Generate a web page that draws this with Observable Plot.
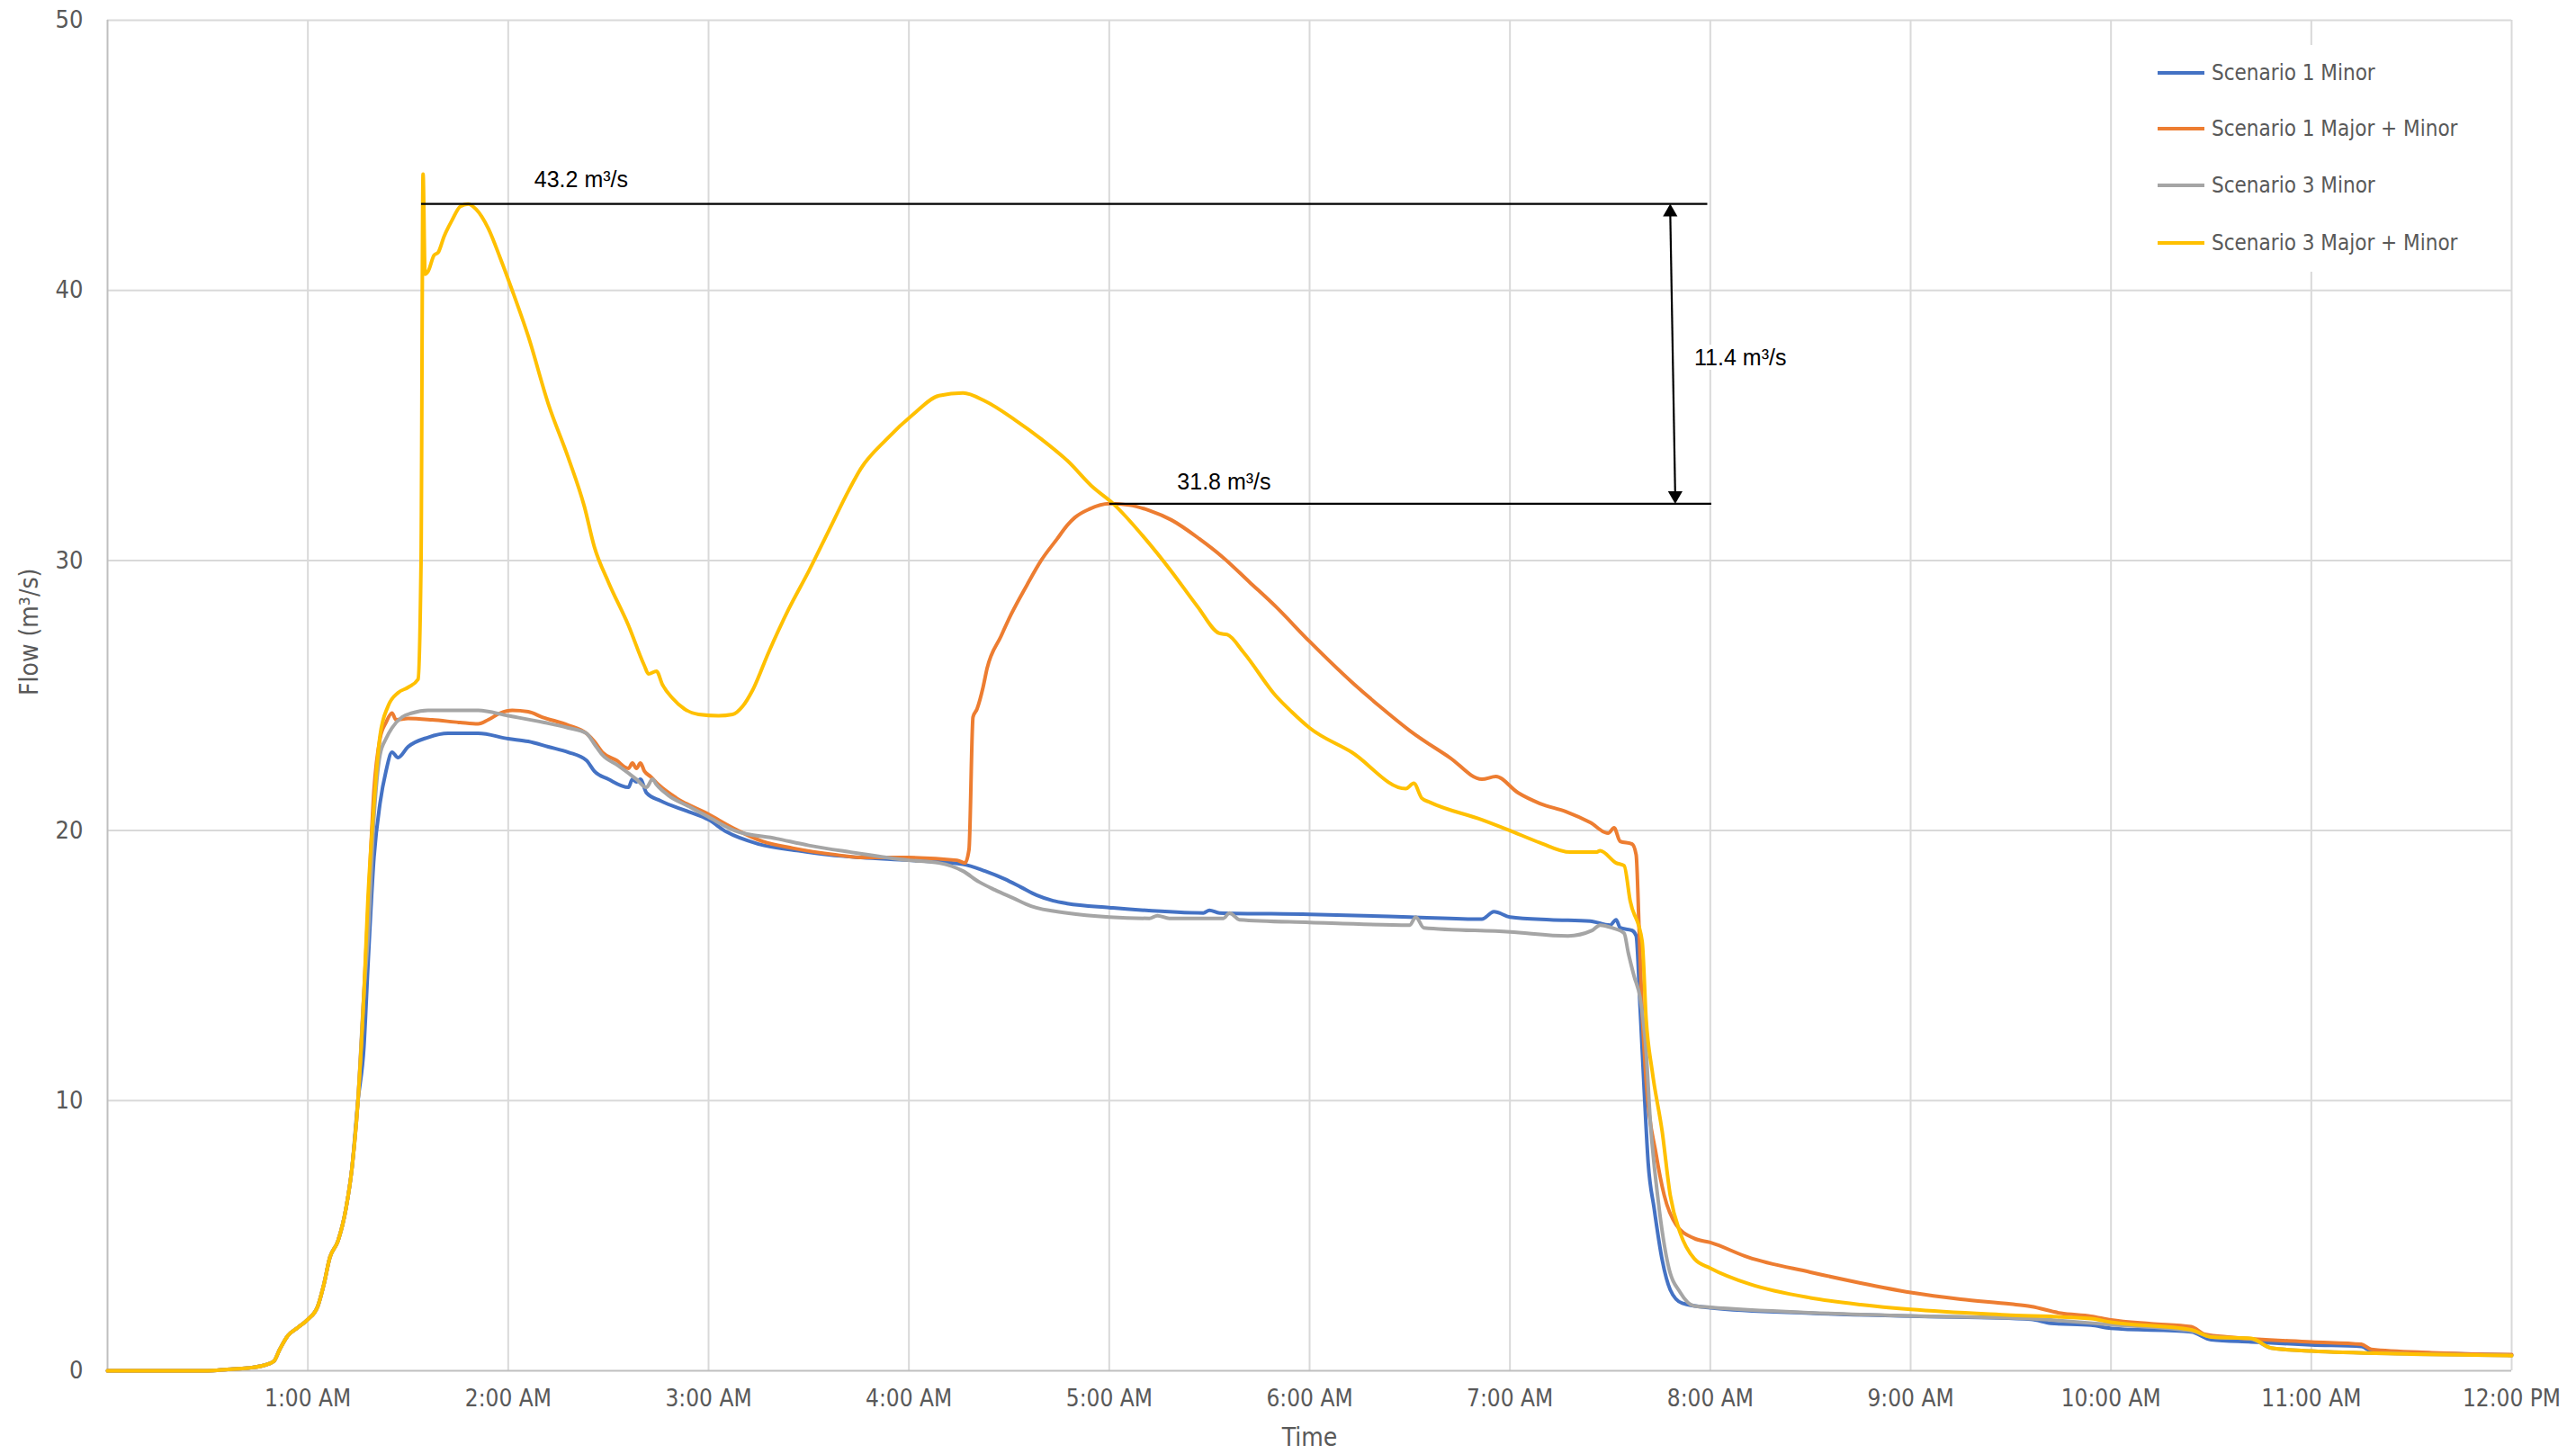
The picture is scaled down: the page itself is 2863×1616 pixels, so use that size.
<!DOCTYPE html>
<html><head><meta charset="utf-8">
<script src="https://cdn.jsdelivr.net/npm/d3@7"></script>
<script src="https://cdn.jsdelivr.net/npm/@observablehq/plot@0.6"></script>
<style>
html,body{margin:0;padding:0;background:#fff;}
#wrap{position:relative;width:2863px;height:1616px;}
#legend{position:absolute;left:2372px;top:50px;width:410px;height:252px;background:#fff;
  font-family:'Liberation Sans Narrow','DejaVu Sans Condensed',Roboto,sans-serif;font-size:24px;color:#595959;}
.row{position:absolute;left:0;height:40px;display:flex;align-items:center;white-space:nowrap;}
.sw{width:52px;height:4px;margin-left:26px;margin-right:8px;}
</style></head>
<body><div id="wrap"><div id="legend"></div></div>
<script>
// ---------- data ----------
const hourTicks = [1,2,3,4,5,6,7,8,9,10,11,12];
const hourLabels = ["1:00 AM","2:00 AM","3:00 AM","4:00 AM","5:00 AM","6:00 AM","7:00 AM","8:00 AM","9:00 AM","10:00 AM","11:00 AM","12:00 PM"];
const flowTicks = [0,10,20,30,40,50];

const seriesNames = ["Scenario 1 Minor","Scenario 1 Major + Minor","Scenario 3 Minor","Scenario 3 Major + Minor"];
const seriesColors = ["#4472C4","#ED7D31","#A5A5A5","#FFC000"];

// common rising limb [hour, flow]
const baseRise = [[0,0],[0.5,0],[0.6,0.05],[0.7,0.1],[0.78,0.2],[0.83,0.35],[0.86,0.8],[0.9,1.3],[0.95,1.6],[1.0,1.9],[1.05,2.4],[1.08,3.2],[1.11,4.2],[1.15,4.8],[1.19,6.0],[1.22,7.5],[1.25,10]];

const s1Minor = [[1.28,12],[1.3,15],[1.33,19],[1.36,21],[1.39,22.2],[1.42,22.9],[1.45,22.7],[1.5,23.1],[1.6,23.45],[1.7,23.6],[1.85,23.6],[2.0,23.4],[2.1,23.3],[2.2,23.1],[2.3,22.9],[2.39,22.6],[2.43,22.2],[2.5,21.9],[2.6,21.6],[2.62,21.9],[2.64,21.8],[2.66,21.9],[2.69,21.4],[2.76,21.1],[2.9,20.7],[3.0,20.4],[3.09,19.95],[3.25,19.5],[3.45,19.25],[3.6,19.1],[3.76,19.0],[4.0,18.9],[4.27,18.75],[4.38,18.5],[4.48,18.2],[4.56,17.9],[4.64,17.6],[4.72,17.4],[4.79,17.3],[5.0,17.15],[5.47,16.95],[5.5,17.05],[5.55,16.95],[6.0,16.9],[6.5,16.8],[6.86,16.72],[6.92,17.0],[7.0,16.8],[7.2,16.7],[7.4,16.65],[7.5,16.5],[7.53,16.7],[7.55,16.4],[7.61,16.3],[7.63,16.1],[7.65,13.4],[7.67,10.4],[7.69,7.7],[7.72,6.0],[7.76,4.1],[7.8,3.0],[7.86,2.5],[8.0,2.33],[8.5,2.13],[9.0,2.02],[9.6,1.91],[9.7,1.76],[9.9,1.69],[10.0,1.57],[10.4,1.44],[10.5,1.15],[10.7,1.07],[11.0,0.96],[11.25,0.9],[11.3,0.73],[11.6,0.65],[12.0,0.58]];

const s1Major = [[1.28,14],[1.3,17],[1.33,21.5],[1.36,23.4],[1.39,24.0],[1.42,24.35],[1.44,24.1],[1.5,24.15],[1.62,24.1],[1.76,24.0],[1.85,23.95],[1.9,24.1],[1.96,24.35],[2.02,24.45],[2.1,24.4],[2.17,24.2],[2.3,23.9],[2.39,23.6],[2.43,23.3],[2.47,22.9],[2.54,22.6],[2.6,22.3],[2.62,22.5],[2.64,22.3],[2.66,22.5],[2.68,22.2],[2.71,22.0],[2.75,21.7],[2.84,21.2],[3.0,20.6],[3.12,20.1],[3.27,19.6],[3.42,19.35],[3.64,19.1],[3.77,19.0],[4.0,19.0],[4.24,18.9],[4.28,18.8],[4.3,19.3],[4.32,24.2],[4.34,24.5],[4.37,25.3],[4.39,26.0],[4.46,27.2],[4.51,28.0],[4.59,29.1],[4.66,30.0],[4.74,30.8],[4.79,31.3],[4.83,31.6],[4.9,31.9],[5.0,32.1],[5.1,32.05],[5.2,31.85],[5.31,31.5],[5.45,30.8],[5.57,30.1],[5.7,29.2],[5.83,28.3],[6.0,27.0],[6.21,25.5],[6.35,24.6],[6.5,23.7],[6.7,22.7],[6.86,21.9],[6.93,22.0],[7.04,21.4],[7.15,21.0],[7.28,20.7],[7.4,20.3],[7.49,19.9],[7.52,20.1],[7.55,19.6],[7.61,19.5],[7.63,19.1],[7.645,16.3],[7.66,13.3],[7.68,10.7],[7.73,8.0],[7.77,6.5],[7.83,5.4],[7.92,4.9],[8.0,4.75],[8.19,4.2],[8.5,3.65],[8.75,3.25],[9.0,2.9],[9.25,2.65],[9.5,2.47],[9.6,2.38],[9.75,2.13],[9.9,2.02],[10.0,1.88],[10.2,1.74],[10.4,1.63],[10.47,1.35],[10.6,1.24],[11.0,1.07],[11.25,0.98],[11.3,0.79],[11.6,0.67],[12.0,0.6]];

const s3Minor = [[1.28,14],[1.3,16],[1.33,20.5],[1.36,22.8],[1.39,23.4],[1.42,23.8],[1.47,24.2],[1.52,24.35],[1.6,24.45],[1.85,24.45],[2.0,24.25],[2.18,24.0],[2.3,23.8],[2.39,23.6],[2.43,23.2],[2.47,22.8],[2.55,22.4],[2.64,21.9],[2.69,21.6],[2.72,21.9],[2.74,21.7],[2.8,21.3],[2.9,20.9],[3.0,20.5],[3.13,20.0],[3.34,19.7],[3.5,19.45],[3.71,19.2],[4.0,18.9],[4.15,18.8],[4.27,18.5],[4.35,18.1],[4.43,17.8],[4.52,17.5],[4.61,17.2],[4.79,16.95],[5.0,16.8],[5.2,16.75],[5.24,16.85],[5.3,16.75],[5.57,16.75],[5.6,16.95],[5.65,16.7],[6.0,16.6],[6.5,16.5],[6.53,16.8],[6.57,16.4],[7.0,16.25],[7.29,16.1],[7.41,16.3],[7.45,16.5],[7.51,16.4],[7.57,16.2],[7.59,15.5],[7.62,14.6],[7.65,13.8],[7.68,11.8],[7.7,9.3],[7.74,6.3],[7.79,3.9],[7.85,2.9],[7.92,2.4],[8.0,2.35],[8.5,2.15],[9.0,2.03],[9.6,1.93],[9.7,1.88],[10.0,1.71],[10.4,1.48],[10.5,1.26],[10.7,1.18],[10.8,0.84],[11.0,0.73],[11.5,0.62],[12.0,0.56]];

const s3Major = [[1.28,14],[1.3,17.5],[1.33,21],[1.36,23.5],[1.4,24.6],[1.45,25.1],[1.5,25.3],[1.55,25.6],[1.565,30],[1.575,44.3],[1.585,40.6],[1.6,40.7],[1.63,41.3],[1.65,41.4],[1.68,42.0],[1.72,42.6],[1.76,43.1],[1.8,43.2],[1.84,43.0],[1.9,42.3],[1.96,41.2],[2.02,40.0],[2.1,38.3],[2.2,35.8],[2.3,33.8],[2.38,32.0],[2.43,30.5],[2.5,29.2],[2.6,27.6],[2.68,26.1],[2.7,25.8],[2.74,25.9],[2.77,25.4],[2.82,24.9],[2.88,24.5],[2.95,24.3],[3.05,24.25],[3.12,24.3],[3.17,24.6],[3.22,25.2],[3.3,26.6],[3.4,28.2],[3.5,29.6],[3.6,31.1],[3.7,32.6],[3.76,33.4],[3.89,34.5],[4.02,35.4],[4.15,36.1],[4.27,36.2],[4.38,35.9],[4.53,35.2],[4.66,34.5],[4.79,33.7],[4.92,32.7],[5.02,32.1],[5.18,30.8],[5.31,29.6],[5.44,28.3],[5.55,27.3],[5.59,27.25],[5.67,26.6],[5.83,25.0],[5.91,24.4],[6.0,23.8],[6.21,22.9],[6.48,21.55],[6.52,21.75],[6.56,21.2],[6.6,21.05],[6.86,20.4],[7.0,20.0],[7.15,19.55],[7.3,19.2],[7.43,19.2],[7.45,19.25],[7.53,18.8],[7.57,18.7],[7.6,17.4],[7.66,15.9],[7.68,13.0],[7.71,11.1],[7.76,8.85],[7.8,6.5],[7.85,5.1],[7.92,4.15],[8.0,3.8],[8.2,3.2],[8.5,2.7],[8.75,2.45],[9.0,2.27],[9.5,2.06],[9.9,1.93],[10.0,1.8],[10.4,1.52],[10.5,1.25],[10.7,1.2],[10.8,0.84],[11.0,0.73],[11.5,0.62],[12.0,0.56]];

const seriesData = [s1Minor, s1Major, s3Minor, s3Major];

// annotations
const annLines = [
  {x1: 1.565, y1: 43.2, x2: 7.985, y2: 43.2},
  {x1: 5.0, y1: 32.1, x2: 8.005, y2: 32.1},
  {x1: 7.80, y1: 42.9, x2: 7.825, y2: 32.4}
];
const annLabels = [
  {x: 2.364, y: 44.1, text: "43.2 m³/s"},
  {x: 5.573, y: 32.9, text: "31.8 m³/s"}
];
const diffLabel = [{x: 8.15, y: 37.5, text: "11.4 m³/s"}];
const arrowUp = [{x: 7.80, y: 42.89}];
const arrowDown = [{x: 7.825, y: 32.41}];

// ---------- build ----------
const FONT = "'Liberation Sans Narrow','DejaVu Sans Condensed',Roboto,sans-serif";
const rows = [];
seriesData.forEach((s, i) => {
  for (const [t, q] of baseRise.concat(s)) rows.push({series: seriesNames[i], t, q});
});

const chart = Plot.plot({
  width: 2863, height: 1616,
  marginLeft: 119, marginRight: 72, marginTop: 22, marginBottom: 93,
  style: {fontFamily: FONT, fontSize: "26px", color: "#595959", background: "#fff", overflow: "visible"},
  x: {domain: [0, 12], axis: null},
  y: {domain: [0, 50], axis: null},
  color: {domain: seriesNames, range: seriesColors},
  marks: [
    Plot.gridX(hourTicks, {stroke: "#d9d9d9", strokeOpacity: 1, strokeWidth: 2}),
    Plot.gridY(flowTicks.filter(d => d > 0), {stroke: "#d9d9d9", strokeOpacity: 1, strokeWidth: 2}),
    Plot.ruleX([0], {stroke: "#bfbfbf", strokeWidth: 2}),
    Plot.ruleY([0], {stroke: "#bfbfbf", strokeWidth: 2}),
    Plot.axisX(hourTicks, {tickSize: 0, tickPadding: 21, label: null, fontSize: 26, fill: "#595959",
      tickFormat: d => hourLabels[hourTicks.indexOf(d)]}),
    Plot.axisY(flowTicks, {tickSize: 0, tickPadding: 27, label: null, fontSize: 27, fill: "#595959"}),
    Plot.line(rows, {x: "t", y: "q", z: "series", stroke: "series", strokeWidth: 4, curve: "monotone-x"}),
    Plot.link(annLines, {x1: "x1", y1: "y1", x2: "x2", y2: "y2", stroke: "#000", strokeWidth: 2.2}),
    Plot.dot(arrowUp, {x: "x", y: "y", symbol: "triangle", r: 6, fill: "#000", stroke: null}),
    Plot.dot(arrowDown, {x: "x", y: "y", symbol: "triangle", r: 6, fill: "#000", stroke: null, rotate: 180}),
    Plot.text(annLabels, {x: "x", y: "y", text: "text", fontFamily: "'Liberation Sans',Arial,sans-serif", fontSize: 25, fill: "#000"}),
    Plot.text(diffLabel, {x: "x", y: "y", text: "text", fontFamily: "'Liberation Sans',Arial,sans-serif", fontSize: 25, fill: "#000", stroke: "#fff", strokeWidth: 10}),
    Plot.text(["Time"], {frameAnchor: "bottom", dy: 83, text: d => d, fontSize: 28, fill: "#595959"}),
    Plot.text(["Flow (m³/s)"], {frameAnchor: "left", dx: -86, rotate: -90, text: d => d, fontSize: 28, fill: "#595959"})
  ]
});
document.getElementById("wrap").prepend(chart);

// legend
const legend = document.getElementById("legend");
const centers = [31, 93, 156, 220];
seriesNames.forEach((name, i) => {
  const r = document.createElement("div");
  r.className = "row";
  r.style.top = (centers[i] - 20) + "px";
  const sw = document.createElement("span");
  sw.className = "sw";
  sw.style.background = seriesColors[i];
  const tx = document.createElement("span");
  tx.textContent = name;
  r.appendChild(sw); r.appendChild(tx);
  legend.appendChild(r);
});
</script>
</body></html>
